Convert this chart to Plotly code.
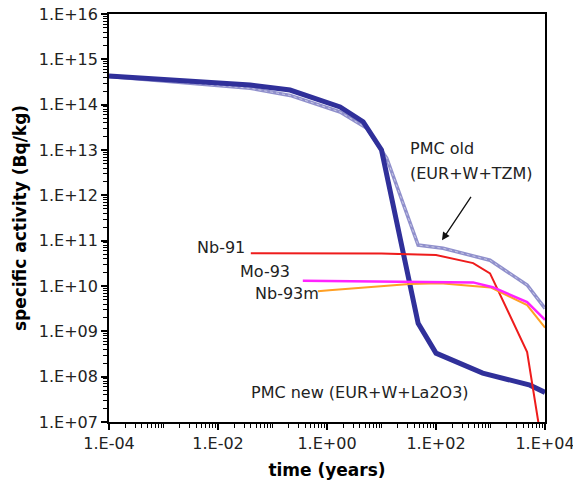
import plotly.graph_objects as go

# Specific activity vs. cooling time for plasma-facing materials
t_new = [1e-4, 0.039, 0.21, 1.74, 4.6, 10, 47, 100, 720, 5300, 1e4]
a_new = [4.3e14, 2.7e14, 2.1e14, 8.9e13, 4.2e13, 1.0e13, 1.5e9, 3.3e8, 1.2e8, 6.5e7, 4.5e7]

t_old = [1e-4, 0.039, 0.21, 1.74, 5.4, 12.5, 47, 135, 980, 4700, 1e4]
a_old = [4.2e14, 2.3e14, 1.6e14, 6.9e13, 3.0e13, 6.6e12, 8.0e10, 6.8e10, 3.7e10, 1.05e10, 3.2e9]

t_nb91 = [0.04, 10, 100, 480, 980, 4700, 1e4]
a_nb91 = [5.3e10, 5.2e10, 4.8e10, 3.2e10, 1.9e10, 3.5e8, 1.2e6]

t_mo93 = [0.36, 480, 1100, 4700, 1e4]
a_mo93 = [1.3e10, 1.2e10, 9.4e9, 4.4e9, 1.8e9]

t_nb93m = [0.68, 1.1, 33, 120, 1000, 4700, 1e4]
a_nb93m = [7.7e9, 8.1e9, 1.1e10, 1.15e10, 9.3e9, 3.8e9, 1.2e9]

x_ticks = [1e-4, 1e-2, 1e0, 1e2, 1e4]
x_labels = ["1.E-04", "1.E-02", "1.E+00", "1.E+02", "1.E+04"]
y_ticks = [10.0 ** k for k in range(7, 17)]
y_labels = ["1.E+%02d" % k for k in range(7, 17)]

FONT = "DejaVu Sans"

fig = go.Figure()
fig.add_trace(go.Scatter(x=t_old, y=a_old, mode="lines",
                         line=dict(color="#9090cc", width=3.5)))
fig.add_trace(go.Scatter(x=t_old, y=a_old, mode="lines",
                         line=dict(color="rgba(255,255,255,0.5)", width=1, dash="dot")))
fig.add_trace(go.Scatter(x=t_new, y=a_new, mode="lines",
                         line=dict(color="#30309a", width=5)))
fig.add_trace(go.Scatter(x=t_nb91, y=a_nb91, mode="lines",
                         line=dict(color="#ee1c1c", width=2)))
fig.add_trace(go.Scatter(x=t_nb93m, y=a_nb93m, mode="lines",
                         line=dict(color="#ffa024", width=2)))
fig.add_trace(go.Scatter(x=t_mo93, y=a_mo93, mode="lines",
                         line=dict(color="#ff22ff", width=2.5)))

txt = dict(family=FONT, size=16, color="#222")
ann = [
    dict(x=-1.47, y=10.86, text="Nb-91", xanchor="right"),
    dict(x=-0.64, y=10.33, text="Mo-93", xanchor="right"),
    dict(x=-0.11, y=9.84, text="Nb-93m", xanchor="right"),
    dict(x=1.49, y=13.03, text="PMC old", xanchor="left"),
    dict(x=1.49, y=12.48, text="(EUR+W+TZM)", xanchor="left"),
    dict(x=-1.43, y=7.66, text="PMC new (EUR+W+La2O3)", xanchor="left"),
]
for a in ann:
    fig.add_annotation(xref="x", yref="y", showarrow=False, yanchor="middle",
                       font=txt, **a)
fig.add_annotation(xref="x", yref="y", x=2.11, y=11.01, axref="x", ayref="y",
                   ax=2.66, ay=12.0, text="", showarrow=True, arrowhead=2,
                   arrowsize=1.2, arrowwidth=1.3, arrowcolor="#111")

axis_common = dict(type="log", showgrid=False, zeroline=False, showline=True,
                   linecolor="black", linewidth=1.8, mirror=True,
                   ticks="outside", ticklen=6, tickwidth=1.6, tickcolor="black",
                   ticklabeloverflow="allow", automargin=False,
                   tickfont=dict(family=FONT, size=16, color="#222"),
                   minor=dict(dtick="D1", ticks="outside", ticklen=4,
                              tickwidth=1, tickcolor="black", showgrid=False))

fig.update_xaxes(range=[-4, 4], tickvals=x_ticks, ticktext=x_labels,
                 title=dict(text="<b>time (years)</b>", standoff=12,
                            font=dict(family=FONT, size=17, color="black")),
                 **axis_common)
fig.update_yaxes(range=[7, 16], tickvals=y_ticks, ticktext=y_labels,
                 title=dict(text="<b>specific activity (Bq/kg)</b>", standoff=8,
                            font=dict(family=FONT, size=17, color="black")),
                 **axis_common)

fig.update_layout(width=573, height=490, showlegend=False,
                  margin=dict(l=109, r=28, t=14, b=68),
                  plot_bgcolor="white", paper_bgcolor="white")

fig.write_html("out.html")
